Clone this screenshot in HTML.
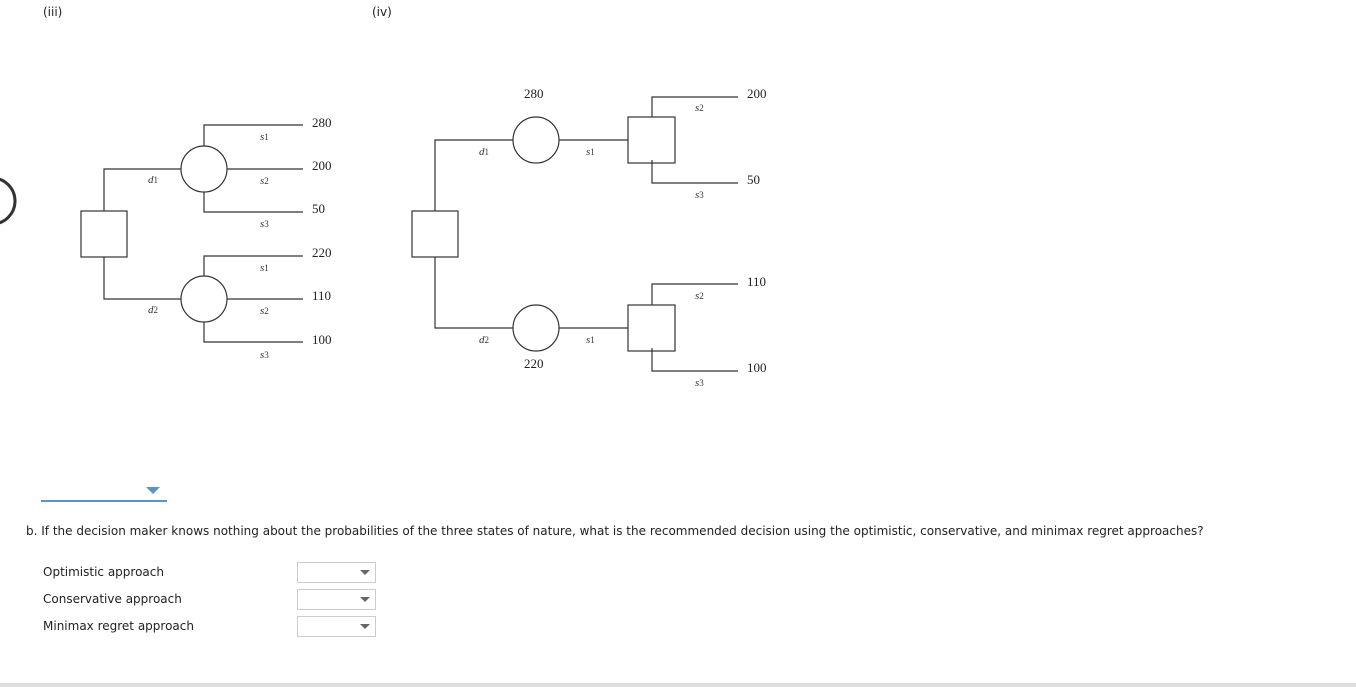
<!DOCTYPE html>
<html><head><meta charset="utf-8"><style>
html,body{margin:0;padding:0;background:#fff;width:1356px;height:687px;overflow:hidden;position:relative;font-family:"DejaVu Sans","Liberation Sans",sans-serif;}
.t{position:absolute;font-size:12px;color:#222;white-space:nowrap;}
.sel{position:absolute;left:297px;width:77px;height:19px;border:1px solid #ccc;background:#fff;}
.sel:after{content:"";position:absolute;right:5px;top:7px;border-left:5px solid transparent;border-right:5px solid transparent;border-top:5px solid #666;}
</style></head><body>
<div class="t" style="left:43px;top:5px;">(iii)</div>
<div class="t" style="left:372px;top:5px;">(iv)</div>
<svg width="1356" height="687" style="position:absolute;left:0;top:0" font-family="Liberation Serif,serif">
<g stroke="#333" stroke-width="1.2" fill="none">
<circle cx="-8" cy="201" r="23" stroke="#333" stroke-width="3"/>
<rect x="81" y="211" width="46" height="46" fill="#fff"/>
<path d="M104 211V169H181M104 257V299H181"/>
<circle cx="204" cy="169" r="23" fill="#fff"/>
<circle cx="204" cy="299" r="23" fill="#fff"/>
<path d="M204 146V125H303M227 169H303M204 192V212H303"/>
<path d="M204 276V256H303M227 299H303M204 322V342H303"/>
<rect x="412" y="211" width="46" height="46" fill="#fff"/>
<path d="M435 211V140H513M435 257V328H513"/>
<circle cx="536" cy="140" r="23" fill="#fff"/>
<circle cx="536" cy="328" r="23" fill="#fff"/>
<path d="M559 140H628M559 328H628"/>
<rect x="628" y="117" width="47" height="46" fill="#fff"/>
<rect x="628" y="305" width="47" height="46" fill="#fff"/>
<path d="M652 117V97H738M652 160V183H738M652 305V284H738M652 348V371H738"/>
</g>
<g fill="#222" font-size="13">
<text x="312" y="127">280</text><text x="312" y="170">200</text><text x="312" y="213">50</text>
<text x="312" y="257">220</text><text x="312" y="300">110</text><text x="312" y="344">100</text>
<text x="524" y="98">280</text><text x="524" y="368">220</text>
<text x="747" y="98">200</text><text x="747" y="184">50</text><text x="747" y="286">110</text><text x="747" y="372">100</text>
</g>
<g fill="#333" font-size="11" font-style="italic">
<text x="260" y="140">s<tspan font-size="9" font-style="normal">1</tspan></text>
<text x="260" y="184">s<tspan font-size="9" font-style="normal">2</tspan></text>
<text x="260" y="227">s<tspan font-size="9" font-style="normal">3</tspan></text>
<text x="260" y="271">s<tspan font-size="9" font-style="normal">1</tspan></text>
<text x="260" y="314">s<tspan font-size="9" font-style="normal">2</tspan></text>
<text x="260" y="358">s<tspan font-size="9" font-style="normal">3</tspan></text>
<text x="148" y="183">d<tspan font-size="9" font-style="normal">1</tspan></text>
<text x="148" y="313">d<tspan font-size="9" font-style="normal">2</tspan></text>
<text x="479" y="155">d<tspan font-size="9" font-style="normal">1</tspan></text>
<text x="479" y="343">d<tspan font-size="9" font-style="normal">2</tspan></text>
<text x="586" y="155">s<tspan font-size="9" font-style="normal">1</tspan></text>
<text x="586" y="343">s<tspan font-size="9" font-style="normal">1</tspan></text>
<text x="695" y="111">s<tspan font-size="9" font-style="normal">2</tspan></text>
<text x="695" y="198">s<tspan font-size="9" font-style="normal">3</tspan></text>
<text x="695" y="299">s<tspan font-size="9" font-style="normal">2</tspan></text>
<text x="695" y="386">s<tspan font-size="9" font-style="normal">3</tspan></text>
</g>
<rect x="41" y="500" width="126" height="2" fill="#5b93c7"/>
<path d="M146 487H160L153 494Z" fill="#5b93c7"/>
<rect x="0" y="683" width="1356" height="4" fill="#ddd"/>
</svg>
<div class="t" style="left:26px;top:524px;">b. If the decision maker knows nothing about the probabilities of the three states of nature, what is the recommended decision using the optimistic, conservative, and minimax regret approaches?</div>
<div class="t" style="left:43px;top:565px;">Optimistic approach</div>
<div class="t" style="left:43px;top:592px;">Conservative approach</div>
<div class="t" style="left:43px;top:619px;">Minimax regret approach</div>
<div class="sel" style="top:562px"></div>
<div class="sel" style="top:589px"></div>
<div class="sel" style="top:616px"></div>
</body></html>
